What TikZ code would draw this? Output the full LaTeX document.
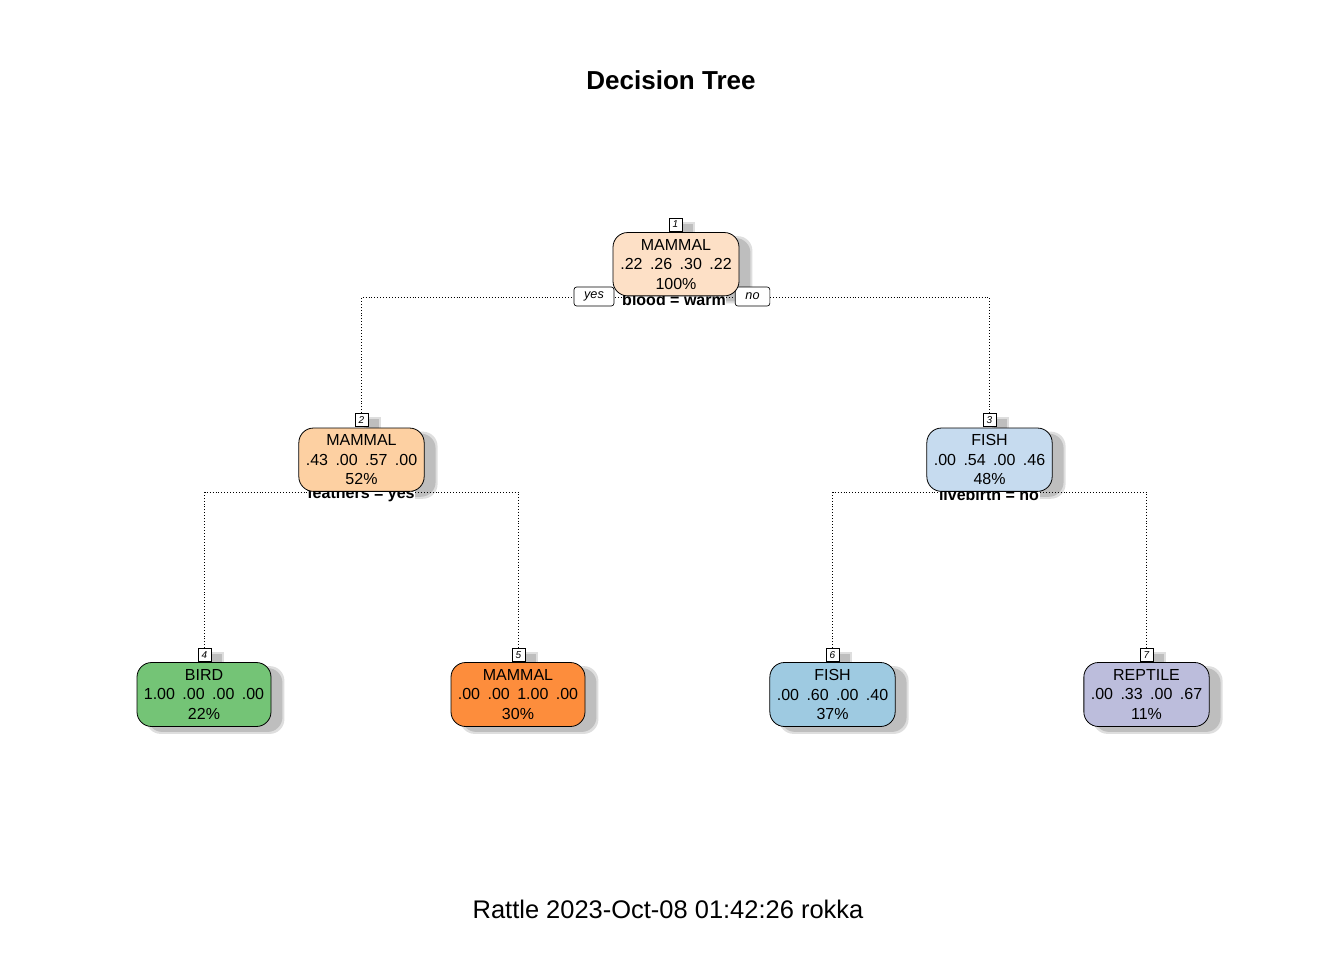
\documentclass[tikz,border=0pt]{standalone}
\usepackage{fontspec}
\setmainfont{Liberation Sans}
\definecolor{cRoot}{RGB}{253,224,198}
\definecolor{cTwo}{RGB}{253,208,162}
\definecolor{cThree}{RGB}{198,219,239}
\definecolor{cFour}{RGB}{116,196,118}
\definecolor{cFive}{RGB}{253,141,60}
\definecolor{cSix}{RGB}{158,202,225}
\definecolor{cSeven}{RGB}{188,189,220}
\definecolor{shA}{RGB}{190,190,190}
\definecolor{shB}{RGB}{222,222,222}
\newcommand{\gp}{\hspace{5.6pt}}
\pgfdeclarelayer{shadowl}
\pgfdeclarelayer{edgel}
\pgfdeclarelayer{splitl}
\pgfsetlayers{shadowl,edgel,splitl,main}
\newcommand{\nshadow}[2]{%
  \fill[shB, rounded corners=#2] ([shift={(9.5,4)}]#1.north west) rectangle ([shift={(13,7)}]#1.south east);
  \fill[shA, rounded corners=#2] ([shift={(11,6)}]#1.north west) rectangle ([shift={(11,5)}]#1.south east);
}
\begin{document}
\begin{tikzpicture}[x=0.75pt,y=-0.75pt,
  tn/.style={draw=black, line width=0.6pt, rounded corners=11pt, minimum width=#1,
    minimum height=47.5pt, align=center, inner sep=0pt,
    font=\fontsize{12}{14.6}\selectfont},
  numlab/.style={draw=black, line width=0.5pt, fill=white, minimum size=9.75pt, inner sep=0pt,
    font=\fontsize{7.5}{8}\selectfont\itshape},
  splitlab/.style={fill=white, inner sep=0.5pt, font=\fontsize{12}{14}\selectfont\bfseries},
  yn/.style={draw=black, line width=0.5pt, fill=white, rounded corners=2pt, minimum height=14.25pt,
    minimum width=#1, inner sep=0pt, font=\fontsize{9.5}{10}\selectfont\itshape},
  edge/.style={line width=0.6pt, dash pattern=on 0.7pt off 1.5pt}
]
\useasboundingbox (0,0) rectangle (1344,960);

% titles
\node[font=\fontsize{19.5}{22}\selectfont\bfseries] (title) at (671,80) {Decision Tree};
\node[font=\fontsize{19.1}{22}\selectfont] (foot) at (668,909) {Rattle 2023-Oct-08 01:42:26 rokka};

% number labels
\node[numlab] (l1) at (675.5,224.5) {1};
\node[numlab] (l2) at (361.5,420) {2};
\node[numlab] (l3) at (989.5,420) {3};
\node[numlab] (l4) at (204.5,655) {4};
\node[numlab] (l5) at (518.5,655) {5};
\node[numlab] (l6) at (832.5,655) {6};
\node[numlab] (l7) at (1146.5,655) {7};

% nodes
\node[tn=94.5pt, fill=cRoot] (n1) at (676,264.2) {MAMMAL\\.22\gp.26\gp.30\gp.22\\100\%};
\node[tn=94pt, fill=cTwo] (n2) at (361.5,459.7) {MAMMAL\\.43\gp.00\gp.57\gp.00\\52\%};
\node[tn=94pt, fill=cThree] (n3) at (989.5,459.7) {FISH\\.00\gp.54\gp.00\gp.46\\48\%};
\node[tn=100.5pt, minimum height=48pt, fill=cFour] (n4) at (204,694.5) {BIRD\\1.00\gp.00\gp.00\gp.00\\22\%};
\node[tn=100.5pt, minimum height=48pt, fill=cFive] (n5) at (518,694.5) {MAMMAL\\.00\gp.00\gp1.00\gp.00\\30\%};
\node[tn=94pt, minimum height=48pt, fill=cSix] (n6) at (832.5,694.5) {FISH\\.00\gp.60\gp.00\gp.40\\37\%};
\node[tn=94pt, minimum height=48pt, fill=cSeven] (n7) at (1146.5,694.5) {REPTILE\\.00\gp.33\gp.00\gp.67\\11\%};

% shadows
\begin{pgfonlayer}{shadowl}
  \nshadow{n1}{11pt}\nshadow{n2}{11pt}\nshadow{n3}{11pt}
  \nshadow{n4}{11pt}\nshadow{n5}{11pt}\nshadow{n6}{11pt}\nshadow{n7}{11pt}
  \nshadow{l1}{0pt}\nshadow{l2}{0pt}\nshadow{l3}{0pt}
  \nshadow{l4}{0pt}\nshadow{l5}{0pt}\nshadow{l6}{0pt}\nshadow{l7}{0pt}
\end{pgfonlayer}

% junctions
\coordinate (j1) at (676,297);
\coordinate (j2) at (361,492);
\coordinate (j3) at (989,492);

% edges
\begin{pgfonlayer}{edgel}
\draw[edge] (l2.north) -- (l2.north |- j1) -- (l3.north |- j1) -- (l3.north);
\draw[edge] (l4.north) -- (l4.north |- j2) -- (l5.north |- j2) -- (l5.north);
\draw[edge] (l6.north) -- (l6.north |- j3) -- (l7.north |- j3) -- (l7.north);
\end{pgfonlayer}

% split labels and yes/no
\begin{pgfonlayer}{splitl}
\node[splitlab] (s1) at (674,299.5) {blood = warm};
\node[splitlab] (s2) at (361,494.5) {feathers = yes};
\node[splitlab] (s3) at (989,494.5) {livebirth = no};
\node[yn=30pt] (yes) at (594,296.5) {yes};
\node[yn=26pt] (no) at (752.5,296.5) {no};
\end{pgfonlayer}
\end{tikzpicture}
\end{document}
